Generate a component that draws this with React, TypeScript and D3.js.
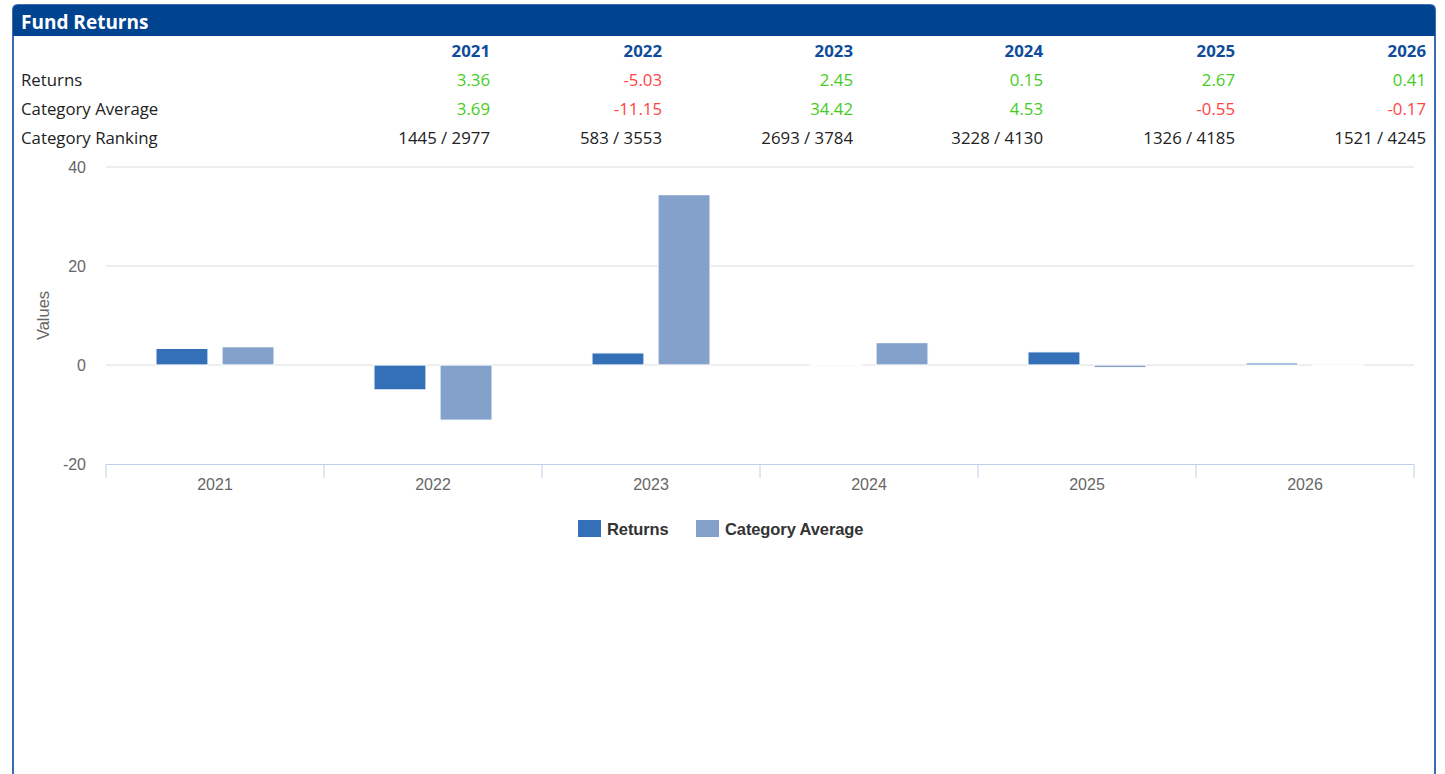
import React from "react";
import * as d3 from "d3";

const years = ["2021", "2022", "2023", "2024", "2025", "2026"];
const returns = [3.36, -5.03, 2.45, 0.15, 2.67, 0.41];
const categoryAverage = [3.69, -11.15, 34.42, 4.53, -0.55, -0.17];
const categoryRanking = ["1445 / 2977", "583 / 3553", "2693 / 3784", "3228 / 4130", "1326 / 4185", "1521 / 4245"];
const seriesNames = ["Returns", "Category Average"];
const seriesColors = ["#3370b8", "#84a1cc"];
const yTicks = [-20, 0, 20, 40];

const W = 1445;
const H = 774;
const colRight = [490, 662, 853, 1043, 1235, 1426];
const tableFont = "'Open Sans', 'Noto Sans', sans-serif";
const chartFont = "'Liberation Sans', Arial, sans-serif";

function fmt(v: number) {
  return v.toFixed(2);
}

export default function App() {
  const left = 106, right = 1414, top = 167, bottom = 464;
  const x0 = d3.scaleBand<string>().domain(years).range([left, right]).paddingInner(0).paddingOuter(0);
  const bw = x0.bandwidth();
  const x1 = d3.scaleBand<string>().domain(seriesNames).range([bw * 0.229, bw * 0.771]).paddingInner(0.212).paddingOuter(0);
  const y = d3.scaleLinear().domain([-20, 40]).range([bottom, top]);
  const seriesValues = [returns, categoryAverage];
  const rows = [
    { label: "Returns", values: returns.map(fmt), colors: returns.map((v) => (v >= 0 ? "#44cc22" : "#ff4444")) },
    { label: "Category Average", values: categoryAverage.map(fmt), colors: categoryAverage.map((v) => (v >= 0 ? "#44cc22" : "#ff4444")) },
    { label: "Category Ranking", values: categoryRanking, colors: categoryRanking.map(() => "#222") },
  ];
  const rowY = [86, 115, 144];
  const boundaries = [...years.map((yr) => x0(yr)!), right];

  return (
    <svg width={W} height={H} style={{ position: "absolute", left: 0, top: 0, background: "#fff" }}>
      {/* panel */}
      <path d={`M13,${H} L13,10 Q13,5 18,5 L1430,5 Q1435,5 1435,10 L1435,${H}`} fill="none" stroke="#3d6db3" strokeWidth={2} />
      <path d={`M13,36 L13,10 Q13,5 18,5 L1430,5 Q1435,5 1435,10 L1435,36 Z`} fill="#00448f" />
      <text x={21} y={29} fill="#fff" fontFamily={tableFont} fontWeight="bold" fontSize={19}>Fund Returns</text>

      {/* table */}
      {years.map((yr, i) => (
        <text key={yr} x={colRight[i]} y={57} textAnchor="end" fill="#0f4c9b" fontFamily={tableFont} fontWeight="bold" fontSize={16.8}>{yr}</text>
      ))}
      {rows.map((r, ri) => (
        <g key={r.label}>
          <text x={21} y={rowY[ri]} fill="#222" fontFamily={tableFont} fontSize={16.8}>{r.label}</text>
          {r.values.map((v, i) => (
            <text key={i} x={colRight[i]} y={rowY[ri]} textAnchor="end" fill={r.colors[i]} fontFamily={tableFont} fontSize={16.8}>{v}</text>
          ))}
        </g>
      ))}

      {/* grid */}
      {yTicks.filter((t) => t !== -20).map((t) => (
        <line key={t} x1={left} x2={right} y1={y(t)} y2={y(t)} stroke="#dcdcdc" strokeWidth={1} />
      ))}
      {yTicks.map((t) => (
        <text key={t} x={86} y={y(t) + 6} textAnchor="end" fill="#666" fontFamily={chartFont} fontSize={16}>{t}</text>
      ))}
      <text transform={`translate(49,${(top + bottom) / 2}) rotate(-90)`} textAnchor="middle" fill="#666" fontFamily={chartFont} fontSize={16.5}>Values</text>

      {/* bars */}
      {years.map((yr, i) => (
        <g key={yr}>
          {seriesNames.map((s, si) => {
            const v = seriesValues[si][i];
            const yv = y(v), y0 = y(0);
            return (
              <rect key={s} x={x0(yr)! + x1(s)!} width={x1.bandwidth()} y={Math.min(yv, y0)} height={Math.abs(yv - y0)} fill={seriesColors[si]} stroke="#fff" strokeWidth={1.2} />
            );
          })}
        </g>
      ))}

      {/* x axis */}
      <line x1={left} x2={right} y1={bottom + 0.5} y2={bottom + 0.5} stroke="#c0d0e8" strokeWidth={1} />
      {boundaries.map((b, i) => (
        <line key={i} x1={b} x2={b} y1={bottom} y2={bottom + 14} stroke="#c0d0e8" strokeWidth={1} />
      ))}
      {years.map((yr) => (
        <text key={yr} x={x0(yr)! + bw / 2} y={490} textAnchor="middle" fill="#666" fontFamily={chartFont} fontSize={16}>{yr}</text>
      ))}

      {/* legend */}
      {seriesNames.map((s, si) => {
        const lx = [578, 696][si];
        return (
          <g key={s}>
            <rect x={lx} y={520} width={23} height={17} fill={seriesColors[si]} />
            <text x={lx + 29} y={535} fill="#333" fontFamily={chartFont} fontWeight="bold" fontSize={16.5} letterSpacing={-0.1}>{s}</text>
          </g>
        );
      })}
    </svg>
  );
}
